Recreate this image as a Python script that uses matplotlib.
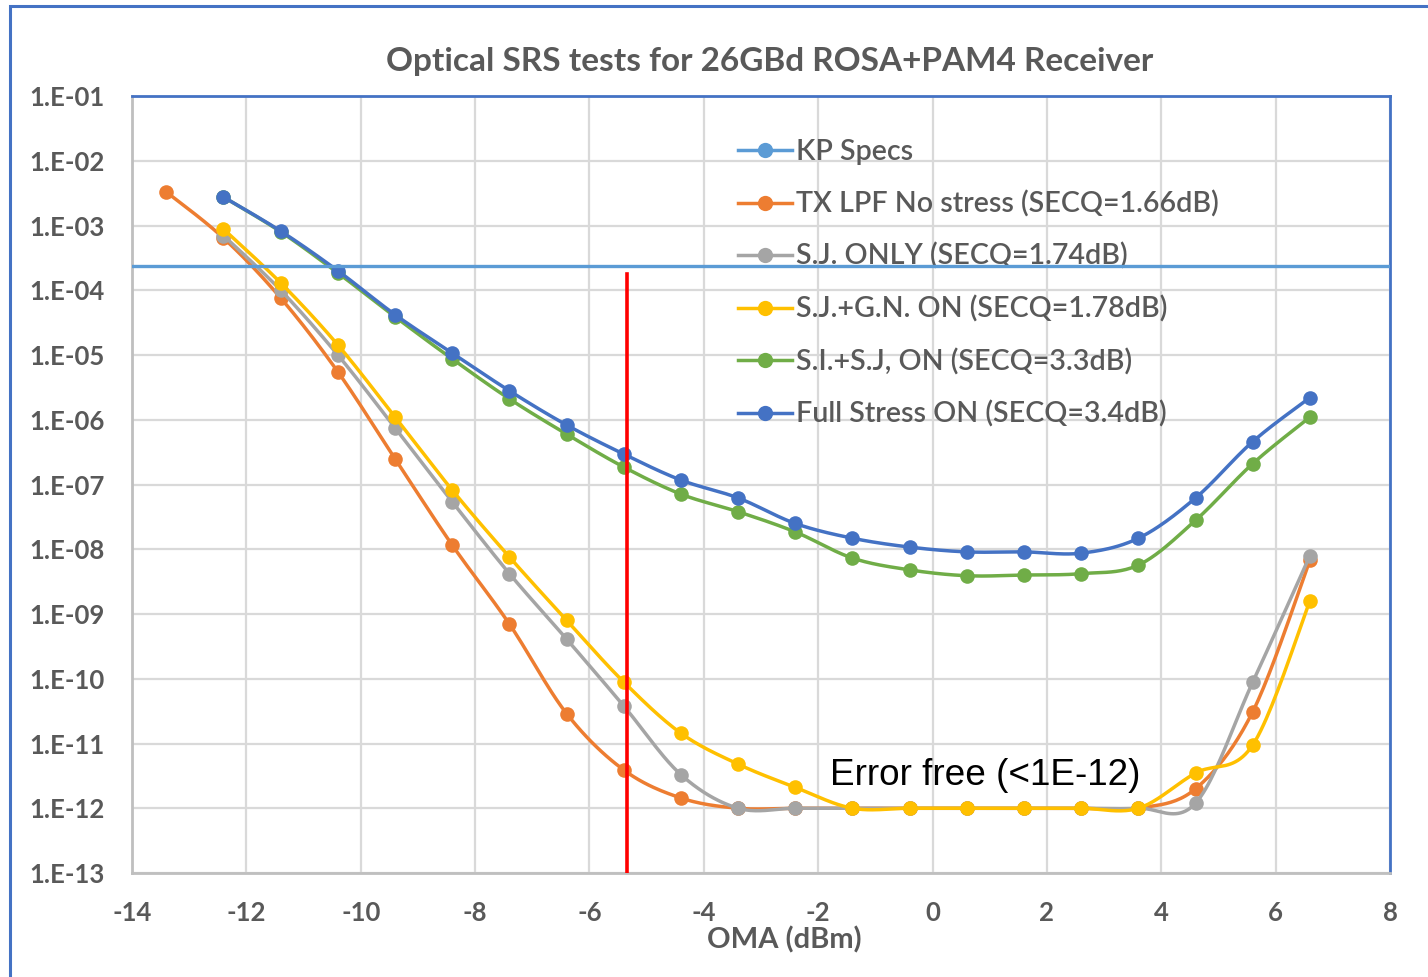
import numpy as np
import matplotlib
matplotlib.use("Agg")
import matplotlib.pyplot as plt
from matplotlib.lines import Line2D
from matplotlib.patches import Rectangle
from matplotlib.ticker import FixedLocator, FuncFormatter

# ---- data ----
oma = [-13.4, -12.4, -11.4, -10.4, -9.4, -8.4, -7.4, -6.4, -5.4, -4.4, -3.4,
       -2.4, -1.4, -0.4, 0.6, 1.6, 2.6, 3.6, 4.6, 5.6, 6.6]

ber_tx_lpf = [3.3e-3, 6.4e-4, 7.6e-5, 5.5e-6, 2.5e-7, 1.16e-8, 7.0e-10, 2.9e-11,
              3.9e-12, 1.44e-12, 1e-12, 1e-12, 1e-12, 1e-12, 1e-12, 1e-12, 1e-12,
              1e-12, 2.0e-12, 3.1e-11, 6.8e-9]
ber_sj_only = [7.0e-4, 1.0e-4, 1.0e-5, 7.5e-7, 5.4e-8, 4.2e-9, 4.1e-10, 3.8e-11,
               3.3e-12, 1e-12, 1e-12, 1e-12, 1e-12, 1e-12, 1e-12, 1e-12, 1e-12,
               1.2e-12, 8.9e-11, 8.0e-9]
ber_sj_gn = [8.8e-4, 1.3e-4, 1.43e-5, 1.1e-6, 8.2e-8, 7.6e-9, 8.0e-10, 8.9e-11,
             1.44e-11, 4.8e-12, 2.1e-12, 1e-12, 1e-12, 1e-12, 1e-12, 1e-12, 1e-12,
             3.5e-12, 9.5e-12, 1.6e-9]
ber_si_sj = [2.75e-3, 8.0e-4, 1.85e-4, 3.9e-5, 8.7e-6, 2.1e-6, 6.0e-7, 1.86e-7,
             7.1e-8, 3.8e-8, 1.85e-8, 7.3e-9, 4.8e-9, 3.9e-9, 4.0e-9, 4.2e-9,
             5.7e-9, 2.8e-8, 2.1e-7, 1.1e-6]
ber_full = [2.75e-3, 8.2e-4, 2.0e-4, 4.2e-5, 1.07e-5, 2.8e-6, 8.3e-7, 2.95e-7,
            1.17e-7, 6.2e-8, 2.5e-8, 1.48e-8, 1.08e-8, 9.1e-9, 9.1e-9, 8.7e-9,
            1.48e-8, 6.2e-8, 4.6e-7, 2.2e-6]

kp_spec = 2.4e-4
sensitivity_oma = -5.35
sensitivity_top = 1.8e-4

labels = ["KP Specs",
          "TX LPF No stress (SECQ=1.66dB)",
          "S.J. ONLY (SECQ=1.74dB)",
          "S.J.+G.N. ON (SECQ=1.78dB)",
          "S.I.+S.J, ON (SECQ=3.3dB)",
          "Full Stress ON (SECQ=3.4dB)"]
colors = ["#5B9BD5", "#ED7D31", "#A5A5A5", "#FFC000", "#70AD47", "#4472C4"]

x_ticks = [-14, -12, -10, -8, -6, -4, -2, 0, 2, 4, 6, 8]
y_ticks = [10.0 ** -k for k in range(1, 14)]


def smooth(xs, ys, n=24):
    """Excel-style smoothed line: cubic Bezier through points in (x, log10 y)."""
    px = np.asarray(xs, float)
    py = np.log10(np.asarray(ys, float))
    P = np.column_stack([px, py])
    out = [P[0]]
    t = np.linspace(0, 1, n)[1:, None]
    for i in range(len(P) - 1):
        p0 = P[i - 1] if i > 0 else P[i]
        p1, p2 = P[i], P[i + 1]
        p3 = P[i + 2] if i + 2 < len(P) else P[i + 1]
        c1 = p1 + (p2 - p0) / 6.0
        c2 = p2 - (p3 - p1) / 6.0
        seg = ((1 - t) ** 3) * p1 + 3 * ((1 - t) ** 2) * t * c1 \
            + 3 * (1 - t) * t ** 2 * c2 + t ** 3 * p2
        out.extend(seg)
    out = np.array(out)
    return out[:, 0], 10.0 ** out[:, 1]


W, H = 1428, 977
fig = plt.figure(figsize=(W / 100, H / 100), dpi=100)
fig.patch.set_facecolor("white")

# outer chart border
fig.patches.append(Rectangle((10 / W, -0.05), 1.2, 1 - 6 / H + 0.05,
                             transform=fig.transFigure, fill=False,
                             edgecolor="#4472C4", linewidth=2.2, zorder=0))

ax = fig.add_axes([132 / W, 1 - 873 / H, (1390 - 132) / W, (873 - 96) / H])
ax.set_yscale("log")
ax.set_xlim(-14, 8)
ax.set_ylim(1e-13, 1e-1)

ax.xaxis.set_major_locator(FixedLocator(x_ticks))
ax.yaxis.set_major_locator(FixedLocator(y_ticks))
ax.yaxis.set_minor_locator(FixedLocator([]))
ax.yaxis.set_major_formatter(FuncFormatter(lambda v, p: "1.E-%02d" % round(-np.log10(v))))
ax.xaxis.set_major_formatter(FuncFormatter(lambda v, p: "%d" % v))

ax.grid(True, which="major", color="#D9D9D9", linewidth=1.6, zorder=0)
ax.set_axisbelow(True)
ax.tick_params(length=0, labelsize=18.5, labelcolor="#595959")
ax.tick_params(axis="y", pad=20)
ax.tick_params(axis="x", pad=20)
for lab in ax.get_xticklabels() + ax.get_yticklabels():
    lab.set_fontfamily("Lato")
    lab.set_fontweight("bold")

for side in ("left", "bottom"):
    ax.spines[side].set_color("#BFBFBF")
    ax.spines[side].set_linewidth(2.0)
for side in ("top", "right"):
    ax.spines[side].set_color("#4472C4")
    ax.spines[side].set_linewidth(2.0)

# spec limit
ax.axhline(kp_spec, color=colors[0], linewidth=2.4, zorder=7)

series = [(oma, ber_tx_lpf), (oma[1:], ber_sj_only), (oma[1:], ber_sj_gn),
          (oma[1:], ber_si_sj), (oma[1:], ber_full)]
for i, (xs, ys) in enumerate(series):
    c = colors[i + 1]
    sx, sy = smooth(xs, ys)
    ax.plot(sx, sy, color=c, linewidth=2.5, solid_capstyle="round", zorder=3 + i * 0.1)
    ax.plot(xs, ys, linestyle="none", marker="o", markersize=10.5, color=c,
            markeredgewidth=0, zorder=3.05 + i * 0.1)

# receiver sensitivity marker
ax.plot([sensitivity_oma, sensitivity_oma], [1e-13, sensitivity_top],
        color="#FF0000", linewidth=2.6, zorder=6)

ax.text(0.92, 10 ** -11.49, "Error free (<1E-12)", ha="center", va="center",
        fontsize=26.6, family="Liberation Sans", color="black", zorder=8)

handles = [Line2D([], [], color=c, linewidth=2.5, marker="o", markersize=11,
                  markeredgewidth=0) for c in colors]
leg = ax.legend(handles, labels, loc="upper left",
                bbox_to_anchor=(738 / W, 1 - 139 / H), bbox_transform=fig.transFigure,
                frameon=False, prop={"family": "Lato", "size": 20.6, "weight": "semibold"},
                handlelength=1.89, handletextpad=0.15, labelspacing=0.89,
                borderpad=0, borderaxespad=0)
leg.set_zorder(5)
for t in leg.get_texts():
    t.set_color("#595959")

fig.text(770 / W, 1 - 62 / H, "Optical SRS tests for 26GBd ROSA+PAM4 Receiver",
         ha="center", va="center", fontsize=24, fontweight="bold",
         family="Lato", color="#595959")
fig.text(784 / W, 1 - 940 / H, "OMA (dBm)", ha="center", va="center",
         fontsize=21, fontweight="bold", family="Lato", color="#595959")

fig.savefig("out.png", dpi=100, facecolor="white")
